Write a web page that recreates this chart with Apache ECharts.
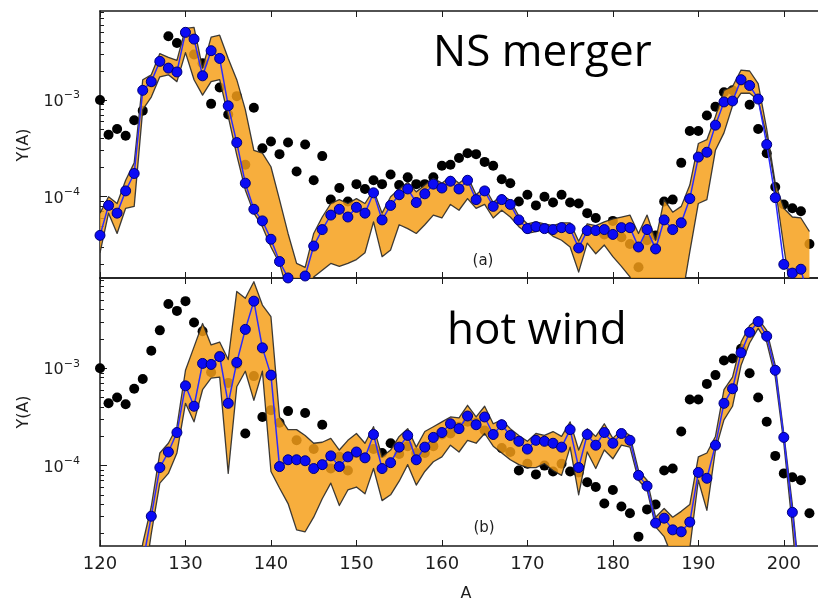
<!DOCTYPE html>
<html>
<head>
<meta charset="utf-8">
<script src="https://cdn.jsdelivr.net/npm/echarts@6/dist/echarts.min.js"></script>
<style>
  html, body { margin: 0; padding: 0; background: #fff; }
  #chart { width: 818px; height: 601px; }
</style>
</head>
<body>
<div id="chart"></div>
<script>
// Mass number A
const massNumber = [
  120,121,122,123,124,125,126,127,128,129,
  130,131,132,133,134,135,136,137,138,139,
  140,141,142,143,144,145,146,147,148,149,
  150,151,152,153,154,155,156,157,158,159,
  160,161,162,163,164,165,166,167,168,169,
  170,171,172,173,174,175,176,177,178,179,
  180,181,182,183,184,185,186,187,188,189,
  190,191,192,193,194,195,196,197,198,199,
  200,201,202,203
];

// log10 Y(A): solar r-process abundances (black dots, both panels)
const solarLogY = [
  -3.00,-3.36,-3.30,-3.37,-3.21,-3.11,-2.82,-2.61,-2.34,-2.41,
  -2.31,-2.53,-2.62,-3.04,-2.87,-3.15,-2.96,-3.67,-3.08,-3.50,
  -3.43,-3.56,-3.44,-3.74,-3.46,-3.83,-3.58,-4.03,-3.91,-4.05,
  -3.87,-3.92,-3.83,-3.87,-3.77,-3.88,-3.80,-3.87,-3.87,-3.80,
  -3.68,-3.67,-3.60,-3.55,-3.56,-3.64,-3.68,-3.82,-3.86,-4.05,
  -3.98,-4.09,-4.00,-4.06,-3.98,-4.06,-4.07,-4.17,-4.22,-4.39,
  -4.25,-4.42,-4.49,-4.73,-4.45,-4.40,-4.05,-4.03,-3.65,-3.32,
  -3.32,-3.16,-3.07,-2.92,-2.90,-2.80,-3.05,-3.30,-3.55,-3.90,
  -4.08,-4.12,-4.15,-4.49
];

// (a) NS merger: baseline abundances and variation band
const mergerLogY = [
  -4.40,-4.09,-4.17,-3.94,-3.76,-2.90,-2.81,-2.60,-2.67,-2.71,
  -2.30,-2.37,-2.75,-2.49,-2.57,-3.06,-3.44,-3.86,-4.13,-4.25,
  -4.44,-4.67,-4.84,-5.00,-4.82,-4.51,-4.34,-4.19,-4.13,-4.21,
  -4.11,-4.17,-3.96,-4.24,-4.09,-3.98,-3.92,-4.06,-3.97,-3.87,
  -3.91,-3.84,-3.92,-3.83,-4.03,-3.94,-4.10,-4.03,-4.08,-4.24,
  -4.33,-4.31,-4.33,-4.34,-4.32,-4.33,-4.53,-4.35,-4.35,-4.34,
  -4.39,-4.32,-4.32,-4.52,-4.34,-4.54,-4.24,-4.34,-4.27,-4.02,
  -3.59,-3.54,-3.26,-3.02,-3.01,-2.79,-2.85,-2.99,-3.46,-4.01,
  -4.70,-4.79,-4.75,-5.10
];
const mergerLogYLow = [
  -4.58,-4.17,-4.38,-4.12,-4.10,-3.10,-2.97,-2.76,-2.74,-2.81,
  -2.51,-2.79,-2.95,-2.81,-2.79,-3.17,-3.57,-3.93,-4.17,-4.31,
  -4.52,-4.69,-5.00,-5.20,-5.10,-4.83,-4.76,-4.69,-4.72,-4.69,
  -4.65,-4.58,-4.26,-4.62,-4.55,-4.29,-4.33,-4.38,-4.29,-4.19,
  -4.22,-4.08,-4.14,-4.02,-4.12,-4.08,-4.22,-4.14,-4.21,-4.31,
  -4.38,-4.36,-4.34,-4.41,-4.45,-4.52,-4.78,-4.48,-4.59,-4.50,
  -4.62,-4.72,-4.83,-5.00,-5.10,-5.10,-5.10,-5.10,-5.10,-4.57,
  -4.07,-4.03,-3.52,-3.34,-3.06,-2.93,-2.93,-3.00,-3.38,-3.90,
  -4.52,-5.10,-5.20,-5.30
];
const mergerLogYHigh = [
  -4.17,-4.00,-4.07,-3.83,-3.65,-2.79,-2.74,-2.52,-2.56,-2.59,
  -2.26,-2.25,-2.67,-2.35,-2.33,-2.57,-2.79,-3.10,-3.52,-3.55,
  -3.69,-4.03,-4.38,-4.69,-4.73,-4.38,-4.21,-4.07,-4.03,-4.07,
  -4.02,-4.07,-3.93,-4.17,-4.00,-3.92,-3.85,-3.95,-3.88,-3.81,
  -3.86,-3.79,-3.86,-3.79,-3.98,-3.90,-4.06,-3.98,-4.04,-4.20,
  -4.28,-4.26,-4.28,-4.30,-4.27,-4.27,-4.46,-4.28,-4.30,-4.26,
  -4.23,-4.21,-4.19,-4.38,-4.19,-4.45,-4.03,-4.16,-4.10,-3.88,
  -3.45,-3.41,-3.17,-2.90,-2.86,-2.69,-2.70,-2.83,-3.30,-3.86,
  -4.12,-4.21,-4.22,-4.36
];

// (b) hot wind: baseline abundances and variation band
const windLogY = [
  -5.50,-5.50,-5.50,-5.50,-5.30,-5.00,-4.52,-4.02,-3.86,-3.66,
  -3.18,-3.39,-2.95,-2.96,-2.88,-3.36,-2.94,-2.60,-2.31,-2.79,
  -3.07,-4.01,-3.94,-3.94,-3.95,-4.03,-3.99,-3.90,-4.01,-3.91,
  -3.86,-3.92,-3.68,-4.03,-3.97,-3.81,-3.69,-3.94,-3.81,-3.71,
  -3.66,-3.57,-3.62,-3.49,-3.58,-3.50,-3.68,-3.58,-3.69,-3.75,
  -3.83,-3.74,-3.75,-3.77,-3.81,-3.63,-4.02,-3.68,-3.79,-3.66,
  -3.77,-3.67,-3.74,-4.10,-4.21,-4.59,-4.54,-4.66,-4.68,-4.58,
  -4.07,-4.13,-3.79,-3.36,-3.21,-2.84,-2.63,-2.52,-2.67,-3.02,
  -3.71,-4.48,-5.30,-5.60
];
const windLogYLow = [
  -6.00,-6.00,-6.00,-6.00,-6.00,-5.30,-4.70,-4.18,-4.08,-3.87,
  -3.36,-3.55,-3.22,-3.10,-3.09,-4.08,-3.19,-3.03,-3.33,-3.03,
  -4.06,-4.23,-4.39,-4.66,-4.68,-4.53,-4.34,-4.18,-4.41,-4.25,
  -4.22,-4.29,-4.03,-4.36,-4.30,-4.16,-3.99,-4.20,-4.06,-3.96,
  -3.91,-3.79,-3.86,-3.74,-3.77,-3.67,-3.80,-3.87,-3.94,-3.99,
  -4.02,-4.02,-3.98,-4.05,-4.10,-3.81,-4.30,-3.86,-4.03,-3.84,
  -3.93,-3.79,-3.81,-4.15,-4.25,-4.63,-4.73,-4.95,-5.00,-4.85,
  -4.15,-4.46,-3.84,-3.53,-3.39,-2.97,-2.74,-2.59,-2.73,-3.09,
  -3.77,-4.63,-5.60,-6.00
];
const windLogYHigh = [
  -5.60,-5.60,-5.60,-5.60,-5.40,-4.80,-4.42,-3.87,-3.77,-3.60,
  -3.02,-2.78,-2.54,-2.76,-2.73,-2.91,-2.21,-2.28,-2.11,-2.35,
  -2.47,-3.50,-3.63,-3.63,-3.69,-3.77,-3.76,-3.72,-3.84,-3.74,
  -3.67,-3.77,-3.60,-3.91,-3.84,-3.70,-3.62,-3.81,-3.65,-3.60,
  -3.55,-3.50,-3.51,-3.38,-3.50,-3.39,-3.57,-3.53,-3.62,-3.69,
  -3.75,-3.67,-3.69,-3.65,-3.70,-3.55,-3.84,-3.62,-3.70,-3.57,
  -3.72,-3.63,-3.69,-4.05,-4.15,-4.53,-4.44,-4.53,-4.47,-4.40,
  -3.91,-3.87,-3.70,-3.22,-3.09,-2.73,-2.56,-2.49,-2.61,-2.97,
  -3.67,-4.40,-5.30,-5.60
];

// Axis ticks
const xTickValues = [120, 130, 140, 150, 160, 170, 180, 190, 200];
const yLabelExponents = [-4, -3];
const yMinorMultipliers = [2, 3, 4, 5, 6, 7, 8, 9];
const yDecades = [-5, -4, -3];

const yMinorTicks = [];
yDecades.forEach(function (d) {
  yMinorMultipliers.forEach(function (m) { yMinorTicks.push(d + Math.log10(m)); });
});

const FRAME = '#1a1a1a';
const TEXT = '#1e1e1e';
const BAND_FILL = 'rgba(246,158,24,0.84)';
const BAND_EDGE = 'rgba(40,40,40,0.9)';
const TICK_FONT = 'DejaVu Sans';

function pairs(values) {
  return massNumber.map(function (a, i) { return [a, values[i]]; });
}
function bandRows(low, high) {
  return massNumber.map(function (a, i) { return [a, low[i], high[i]]; });
}

// Fills the whole band between low and high as one polygon, clipped to the grid
function renderBand(params, api) {
  if (params.dataIndex !== 0) return null;
  const n = params.dataInsideLength;
  const upper = [], lower = [];
  for (let j = 0; j < n; j++) {
    const a = api.value(0, j);
    lower.push(api.coord([a, api.value(1, j)]));
    upper.push(api.coord([a, api.value(2, j)]));
  }
  const cs = params.coordSys;
  return {
    type: 'group',
    clipPath: { type: 'rect', shape: { x: cs.x, y: cs.y, width: cs.width, height: cs.height } },
    children: [
      { type: 'polygon', shape: { points: upper.concat(lower.slice().reverse()) },
        style: { fill: BAND_FILL, stroke: null } },
      { type: 'polyline', shape: { points: upper },
        style: { fill: null, stroke: BAND_EDGE, lineWidth: 1.3, lineJoin: 'round' } },
      { type: 'polyline', shape: { points: lower },
        style: { fill: null, stroke: BAND_EDGE, lineWidth: 1.3, lineJoin: 'round' } }
    ]
  };
}

const panels = [
  { top: 11, height: 267, min: -4.8407, max: -2.0796, mid: mergerLogY, low: mergerLogYLow, high: mergerLogYHigh },
  { top: 278, height: 268, min: -4.826, max: -2.072, mid: windLogY, low: windLogYLow, high: windLogYHigh }
];

const grids = [], xAxes = [], yAxes = [], series = [];

panels.forEach(function (p, k) {
  grids.push({ left: 100, top: p.top, width: 722, height: p.height });
  const isBottom = k === panels.length - 1;
  // bottom and top frame edges carrying inward x ticks
  ['bottom', 'top'].forEach(function (pos) {
    xAxes.push({
      type: 'value', gridIndex: k, position: pos, min: 120, max: 204, interval: 10,
      axisLine: { show: true, onZero: false, lineStyle: { color: FRAME, width: 1.5 } },
      axisTick: { show: true, inside: true, length: 6, lineStyle: { color: FRAME, width: 1 },
                  customValues: xTickValues },
      axisLabel: {
        show: isBottom && pos === 'bottom', customValues: xTickValues,
        fontFamily: TICK_FONT, fontSize: 18, color: TEXT, margin: 9
      },
      splitLine: { show: false }
    });
  });
  // major y ticks and labels
  yAxes.push({
    type: 'value', gridIndex: k, position: 'left', min: p.min, max: p.max,
    axisLine: { show: true, lineStyle: { color: FRAME, width: 1.5 } },
    axisTick: { show: true, inside: true, length: 7, customValues: yLabelExponents,
                lineStyle: { color: FRAME, width: 1 } },
    axisLabel: {
      customValues: yLabelExponents, margin: 20,
      formatter: function (v) { return '{b|10}{e|\u2212' + Math.abs(Math.round(v)) + '}'; },
      rich: {
        b: { fontFamily: TICK_FONT, fontSize: 16, color: TEXT, lineHeight: 20, verticalAlign: 'bottom' },
        e: { fontFamily: TICK_FONT, fontSize: 11, color: TEXT, lineHeight: 20, verticalAlign: 'top' }
      }
    },
    splitLine: { show: false }
  });
  // minor y ticks
  yAxes.push({
    type: 'value', gridIndex: k, position: 'left', min: p.min, max: p.max,
    axisLine: { show: false },
    axisTick: { show: true, inside: true, length: 4, customValues: yMinorTicks,
                lineStyle: { color: FRAME, width: 1 } },
    axisLabel: { show: false },
    splitLine: { show: false }
  });

  const xi = k * 2, yi = k * 2;
  series.push({
    type: 'scatter', xAxisIndex: xi, yAxisIndex: yi, data: pairs(solarLogY),
    symbolSize: 10, itemStyle: { color: '#000', opacity: 1 }, z: 1, silent: true
  });
  series.push({
    type: 'custom', xAxisIndex: xi, yAxisIndex: yi, data: bandRows(p.low, p.high),
    encode: { x: 0, y: [1, 2] }, renderItem: renderBand, z: 2, silent: true
  });
  series.push({
    type: 'line', xAxisIndex: xi, yAxisIndex: yi, data: pairs(p.mid),
    symbol: 'circle', symbolSize: 10, showAllSymbol: true,
    lineStyle: { color: '#2a2aff', width: 1.5 },
    itemStyle: { color: '#0b0bf5', borderColor: '#00007a', borderWidth: 1, opacity: 1 },
    z: 4, clip: true, silent: true
  });
});

const chart = echarts.init(document.getElementById('chart'), null, { renderer: 'canvas' });
chart.setOption({
  animation: false,
  backgroundColor: '#ffffff',
  grid: grids,
  xAxis: xAxes,
  yAxis: yAxes,
  series: series,
  graphic: [
    { type: 'text', left: 433, top: 31, z: 10,
      style: { text: 'NS merger', font: '44px "Open Sans"', fill: '#000' } },
    { type: 'text', left: 447, top: 309, z: 10,
      style: { text: 'hot wind', font: '44px "Open Sans"', fill: '#000' } },
    { type: 'text', x: 483, y: 261, z: 10,
      style: { text: '(a)', font: '15px "DejaVu Sans"', fill: TEXT, align: 'center', verticalAlign: 'middle' } },
    { type: 'text', x: 484, y: 528, z: 10,
      style: { text: '(b)', font: '15px "DejaVu Sans"', fill: TEXT, align: 'center', verticalAlign: 'middle' } },
    { type: 'text', x: 24, y: 145, rotation: Math.PI / 2, z: 10,
      style: { text: 'Y(A)', font: '16px "DejaVu Sans"', fill: TEXT, align: 'center', verticalAlign: 'middle' } },
    { type: 'text', x: 24, y: 412, rotation: Math.PI / 2, z: 10,
      style: { text: 'Y(A)', font: '16px "DejaVu Sans"', fill: TEXT, align: 'center', verticalAlign: 'middle' } },
    { type: 'text', x: 466, y: 594, z: 10,
      style: { text: 'A', font: '16px "DejaVu Sans"', fill: TEXT, align: 'center', verticalAlign: 'middle' } }
  ]
});
</script>
</body>
</html>
